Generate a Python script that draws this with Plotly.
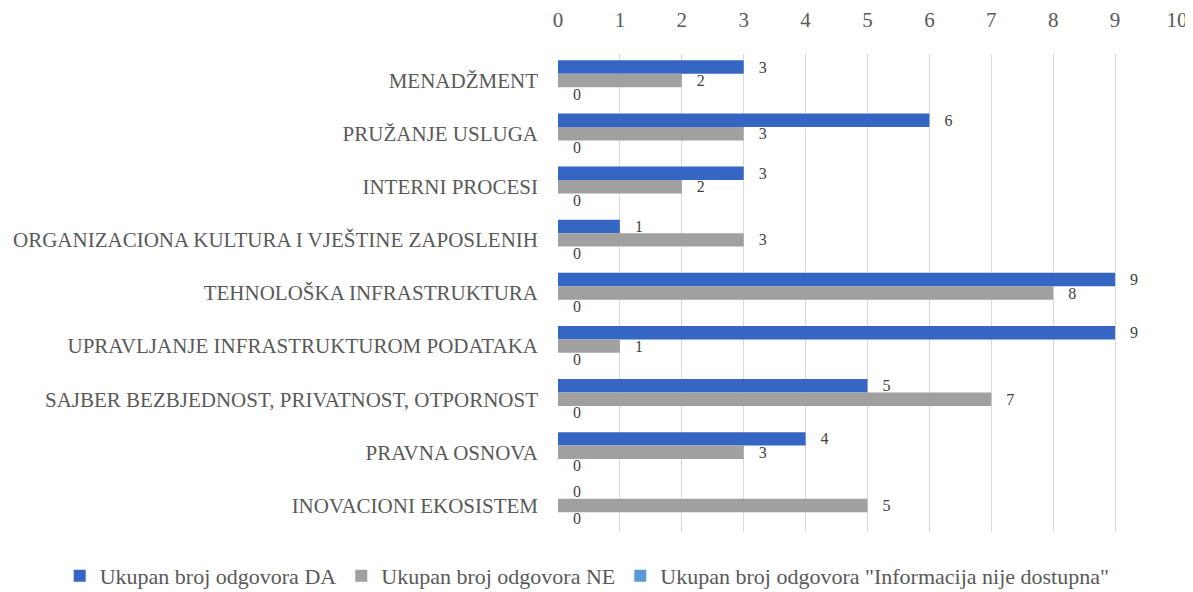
import plotly.graph_objects as go

categories = [
    "MENADŽMENT",
    "PRUŽANJE USLUGA",
    "INTERNI PROCESI",
    "ORGANIZACIONA KULTURA I VJEŠTINE ZAPOSLENIH",
    "TEHNOLOŠKA INFRASTRUKTURA",
    "UPRAVLJANJE INFRASTRUKTUROM PODATAKA",
    "SAJBER BEZBJEDNOST, PRIVATNOST, OTPORNOST",
    "PRAVNA OSNOVA",
    "INOVACIONI EKOSISTEM",
]
da = [3, 6, 3, 1, 9, 9, 5, 4, 0]
ne = [2, 3, 2, 3, 8, 1, 7, 3, 5]
nd = [0, 0, 0, 0, 0, 0, 0, 0, 0]
series_names = [
    "Ukupan broj odgovora DA",
    "Ukupan broj odgovora NE",
    'Ukupan broj odgovora "Informacija nije dostupna"',
]
tick_vals = list(range(0, 11))

FONT = "Liberation Serif"
colors = ["#3566C3", "#A0A0A0", "#5B9BD5"]

fig = go.Figure()
for name, vals, col in zip(series_names, [da, ne, nd], colors):
    fig.add_trace(go.Bar(
        y=categories, x=vals, name=name, orientation="h",
        marker=dict(color=col, line=dict(width=0)),
        text=["   " + str(v) for v in vals], textposition="outside",
        constraintext="none",
        textfont=dict(family=FONT, size=16, color="#404040"),
        cliponaxis=False,
    ))

fig.update_layout(
    barmode="group",
    bargap=0.24,
    bargroupgap=0.0,
    width=1193, height=592,
    margin=dict(l=550, r=24, t=46, b=68, autoexpand=False),
    paper_bgcolor="white", plot_bgcolor="white",
    font=dict(family=FONT, color="#595959"),
    legend=dict(orientation="h",
                x=-0.805, xanchor="left", y=-0.092, yanchor="middle",
                font=dict(family=FONT, size=22, color="#595959"),
                itemwidth=30, traceorder="normal", tracegroupgap=0),
    xaxis=dict(side="top", range=[0, 10], tickvals=tick_vals, automargin=False,
               showgrid=True, gridcolor="#D9D9D9", gridwidth=1,
               zeroline=False, showline=False, ticks="", ticklabelstandoff=22,
               tickfont=dict(family=FONT, size=21, color="#595959")),
    yaxis=dict(autorange="reversed", showgrid=False, ticks="", showline=False,
               automargin=False, ticklabelstandoff=19,
               tickfont=dict(family=FONT, size=21, color="#595959")),
)

fig.write_html("out.html")
